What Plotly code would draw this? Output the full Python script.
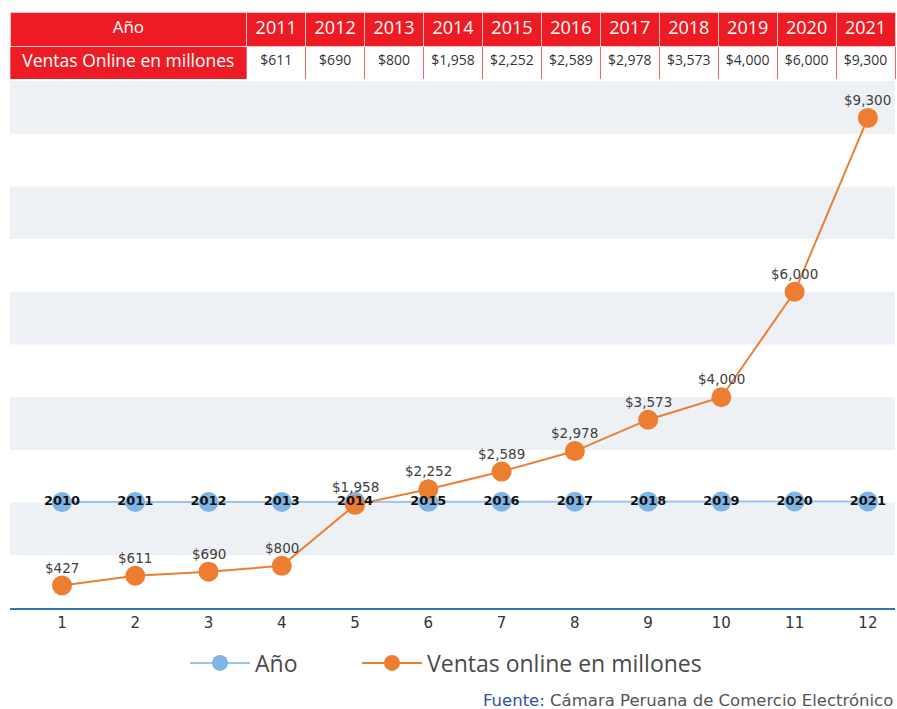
import plotly.graph_objects as go

# ---- data ----
posiciones = [1, 2, 3, 4, 5, 6, 7, 8, 9, 10, 11, 12]
anios = [2010, 2011, 2012, 2013, 2014, 2015, 2016, 2017, 2018, 2019, 2020, 2021]
ventas = [427, 611, 690, 800, 1958, 2252, 2589, 2978, 3573, 4000, 6000, 9300]
etiquetas_ventas = ["$427", "$611", "$690", "$800", "$1,958", "$2,252", "$2,589",
                    "$2,978", "$3,573", "$4,000", "$6,000", "$9,300"]
tabla_anios = ["2011", "2012", "2013", "2014", "2015", "2016", "2017", "2018", "2019", "2020", "2021"]
tabla_ventas = ["$611", "$690", "$800", "$1,958", "$2,252", "$2,589", "$2,978",
                "$3,573", "$4,000", "$6,000", "$9,300"]

W, H = 897, 709
ML, MR, MT, MB = 10, 2, 12, 101
plot_h = H - MT - MB  # 596
plot_w = W - ML - MR
chart_top = 81
RED = "#ED1C24"

fig = go.Figure()

# Año series
fig.add_trace(go.Scatter(
    x=posiciones, y=anios, name="Año", mode="lines+markers",
    line=dict(color="#9DC3E6", width=2),
    marker=dict(color="#7DB5E6", size=20),
    legend="legend",
))
# Ventas series
fig.add_trace(go.Scatter(
    x=posiciones, y=ventas, name="Ventas online en millones", mode="lines+markers",
    line=dict(color="#ED7D31", width=2),
    marker=dict(color="#ED7D31", size=20),
    legend="legend2",
))
# Year labels on top
fig.add_trace(go.Scatter(
    x=posiciones, y=anios, mode="text", text=[str(a) for a in anios],
    textposition="middle center", showlegend=False,
    textfont=dict(family="DejaVu Sans", size=13, color="#111111", weight="bold"),
))

# Table
n = len(tabla_anios)
fill_cells = [[RED]] + [["white"]] * n
font_cells = [["white"]] + [["#333333"]] * n
fig.add_trace(go.Table(
    domain=dict(x=[0, (895 - ML) / plot_w], y=[1 - 68 / plot_h, 1]),
    columnwidth=[237] + [59] * n,
    header=dict(values=["Año"] + tabla_anios, fill_color=RED,
                line=dict(color="#F8C4C6", width=1),
                font=dict(family="Open Sans", size=[17] + [18] * n, color="white"),
                align="center", height=34),
    cells=dict(values=[["Ventas Online en millones"]] + [[v] for v in tabla_ventas],
               fill_color=fill_cells,
               line=dict(color="#F0646A", width=1),
               font=dict(family="Open Sans", size=[17.5] + [14] * n, color=font_cells),
               align="center", height=34),
))

# alternating bands
shapes = []
for k in range(1, 10, 2):
    shapes.append(dict(type="rect", xref="paper", yref="y", x0=0, x1=1,
                       y0=k * 1000, y1=(k + 1) * 1000,
                       fillcolor="#EDF1F5", line=dict(width=0), layer="below"))

annotations = []
for xv, yv, t in zip(posiciones, ventas, etiquetas_ventas):
    annotations.append(dict(x=xv, y=yv, text=t, showarrow=False, yshift=18,
                            xanchor="center", yanchor="middle",
                            font=dict(family="DejaVu Sans", size=13.5, color="#404040")))
annotations.append(dict(
    xref="paper", yref="paper", x=1, y=-(700 - 608) / plot_h, xanchor="right", yanchor="middle",
    showarrow=False,
    text="<span style='color:#2F4FA0'>Fuente:</span> Cámara Peruana de Comercio Electrónico",
    font=dict(family="DejaVu Sans", size=16.5, color="#555555"),
))

leg_font = dict(family="Open Sans", size=23, color="#4A4A4A")
leg_y = -(663 - 608) / plot_h
fig.update_layout(
    width=W, height=H,
    margin=dict(l=ML, r=MR, t=MT, b=MB, autoexpand=False),
    paper_bgcolor="white", plot_bgcolor="white",
    shapes=shapes,
    xaxis=dict(range=[0.29, 12.37], tickvals=posiciones, showgrid=False, zeroline=False,
               showline=True, linecolor="#2E75B6", linewidth=2,
               tickfont=dict(family="DejaVu Sans", size=15, color="#333333")),
    yaxis=dict(range=[0, 10000], domain=[0, (608 - chart_top) / plot_h],
               showgrid=False, zeroline=False, showticklabels=False),
    legend=dict(orientation="h", x=(185 - ML) / plot_w, xanchor="left",
                y=leg_y, yanchor="middle", font=leg_font, itemwidth=60),
    legend2=dict(orientation="h", x=(357 - ML) / plot_w, xanchor="left",
                 y=leg_y, yanchor="middle", font=leg_font, itemwidth=60),
    annotations=annotations,
)

fig.write_html("out.html", config={"displayModeBar": False},
               post_script="document.body.style.margin='0';")
